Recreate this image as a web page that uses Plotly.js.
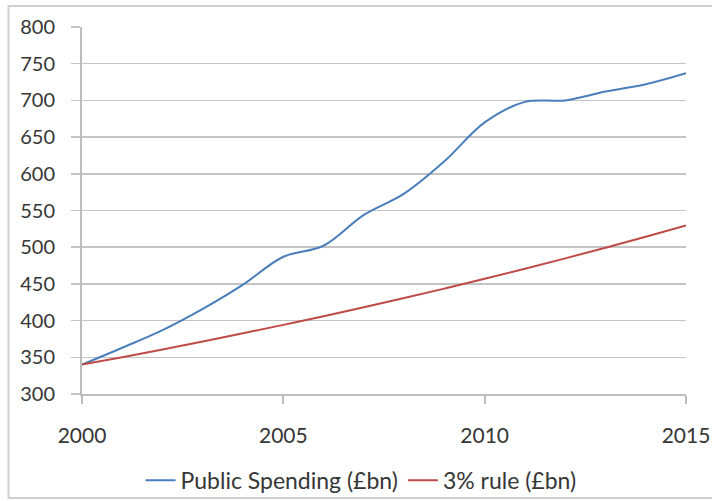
<!DOCTYPE html>
<html>
<head>
<meta charset="utf-8">
<script src="https://cdn.plot.ly/plotly-3.0.1.min.js"></script>
<style>html,body{margin:0;padding:0;background:#fff;}#chart{width:712px;height:501px;}</style>
</head>
<body>
<div id="chart"></div>
<script>
const years = [2000,2001,2002,2003,2004,2005,2006,2007,2008,2009,2010,2011,2012,2013,2014,2015];
const publicSpending = [340,363,387,416,449,487,502,544,573,617,670,698,700,712,722,737];
const threePctRule = [340,350.2,360.7,371.5,382.7,394.2,406.0,418.2,430.7,443.6,456.9,470.6,484.8,499.3,514.3,529.7];
const seriesNames = ['Public Spending (£bn)','3% rule (£bn)'];
const xTicks = [2000,2005,2010,2015];
const yTicks = [300,350,400,450,500,550,600,650,700,750,800];

const font = 'Lato, "Open Sans", sans-serif';
const txt = '#363636';

const traces = [
  {x: years, y: publicSpending, name: seriesNames[0], type:'scatter', mode:'lines',
   line:{color:'#4a7ebb', width:2, shape:'spline', smoothing:1}},
  {x: years, y: threePctRule, name: seriesNames[1], type:'scatter', mode:'lines',
   line:{color:'#be4b48', width:2, shape:'spline', smoothing:1}}
];

const layout = {
  width:712, height:501,
  margin:{l:82, r:26, t:27, b:107, autoexpand:false},
  paper_bgcolor:'#fff', plot_bgcolor:'#fff',
  font:{family:font, color:txt, size:20},
  showlegend:true,
  legend:{orientation:'h', x:0.462, xanchor:'center', y:-0.235, yanchor:'middle',
          bgcolor:'rgba(0,0,0,0)',
          font:{family:font, size:23, color:txt}, itemwidth:30, traceorder:'normal'},
  xaxis:{range:[2000,2015], tickmode:'array', tickvals:xTicks, ticktext:xTicks.map(String),
         showgrid:false, zeroline:false, showline:true, linecolor:'#bdbdbd', linewidth:2,
         ticks:'outside', ticklen:8, tickwidth:2, tickcolor:'#bdbdbd',
         tickfont:{family:font, size:21, color:txt}, ticklabelstandoff:14, fixedrange:true},
  yaxis:{range:[300,800], tickmode:'array', tickvals:yTicks, ticktext:yTicks.map(String),
         showgrid:true, gridcolor:'#c4c4c4', gridwidth:1.5, zeroline:false,
         showline:true, linecolor:'#bdbdbd', linewidth:2,
         ticks:'outside', ticklen:9, tickwidth:1.5, tickcolor:'#c4c4c4',
         tickfont:{family:font, size:20, color:txt}, ticklabelstandoff:12, fixedrange:true},
  shapes:[{type:'rect', xref:'paper', yref:'paper', x0:-0.1217, x1:1.06, y0:-0.2834, y1:1.0572,
           line:{color:'#d0d0d0', width:2}, fillcolor:'rgba(0,0,0,0)', layer:'below'}]
};

Plotly.newPlot('chart', traces, layout, {displayModeBar:false, staticPlot:true});
</script>
</body>
</html>
